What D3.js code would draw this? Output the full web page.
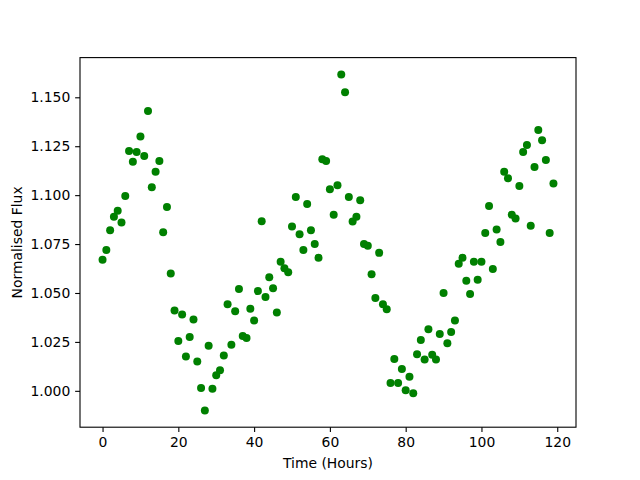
<!DOCTYPE html>
<html>
<head>
<meta charset="utf-8">
<script src="https://cdn.jsdelivr.net/npm/d3@7/dist/d3.min.js"></script>
<style>
  html, body { margin: 0; padding: 0; background: #fff; }
  svg { display: block; }
  text { font-family: "DejaVu Sans", sans-serif; }
</style>
</head>
<body>
<svg id="chart" width="640" height="480"></svg>
<script>
// Time in hours (one observation per hour)
const hours = d3.range(0, 120);
// Normalised flux
const flux = [
  1.067, 1.072, 1.082, 1.089, 1.092, 1.086, 1.0995, 1.1225, 1.117, 1.122,
  1.130, 1.120, 1.143, 1.104, 1.112, 1.1175, 1.081, 1.094, 1.060, 1.041,
  1.0255, 1.039, 1.0175, 1.0275, 1.0365, 1.015, 1.0015, 0.990, 1.023, 1.001,
  1.008, 1.0105, 1.018, 1.0443, 1.0235, 1.0407, 1.052, 1.028, 1.027, 1.042,
  1.036, 1.051, 1.0867, 1.048, 1.058, 1.0524, 1.040, 1.066, 1.0627, 1.0606,
  1.084, 1.099, 1.080, 1.072, 1.0955, 1.082, 1.075, 1.068, 1.1183, 1.1175,
  1.103, 1.090, 1.105, 1.1617, 1.1526, 1.099, 1.0865, 1.089, 1.0974, 1.075,
  1.0742, 1.0596, 1.0475, 1.0705, 1.0443, 1.0417, 1.004, 1.0163, 1.004, 1.0111,
  1.0003, 1.0072, 0.9988, 1.0187, 1.026, 1.016, 1.0315, 1.0185, 1.016, 1.029,
  1.050, 1.0243, 1.030, 1.036, 1.065, 1.068, 1.0562, 1.0495, 1.066, 1.0567,
  1.066, 1.0807, 1.0945, 1.0623, 1.0825, 1.0761, 1.112, 1.1086, 1.090, 1.088,
  1.1047, 1.122, 1.1256, 1.0843, 1.1144, 1.1333, 1.128, 1.118, 1.0807, 1.106
];
const xTicks = [0, 20, 40, 60, 80, 100, 120];
const yTicks = [1.000, 1.025, 1.050, 1.075, 1.100, 1.125, 1.150];
const xLabel = "Time (Hours)";
const yLabel = "Normalised Flux";

(function () {
  const W = 640, H = 480;
  const mLeft = 80, mRight = 576, mTop = 57.6, mBottom = 427.2;

  function padded(ext) {
    const r = ext[1] - ext[0];
    return [ext[0] - 0.05 * r, ext[1] + 0.05 * r];
  }

  const x = d3.scaleLinear().domain(padded(d3.extent(hours))).range([mLeft, mRight]);
  const y = d3.scaleLinear().domain(padded(d3.extent(flux))).range([mBottom, mTop]);

  const svg = d3.select("#chart");
  svg.append("rect").attr("width", W).attr("height", H).attr("fill", "#fff");

  const fs = "13.9px";
  const tickLen = 4.86;

  const xAxis = d3.axisBottom(x).tickValues(xTicks).tickFormat(d3.format("d"))
    .tickSizeInner(tickLen).tickSizeOuter(0).tickPadding(4.86);
  const yAxis = d3.axisLeft(y).tickValues(yTicks).tickFormat(d3.format(".3f"))
    .tickSizeInner(tickLen).tickSizeOuter(0).tickPadding(4.86);

  svg.append("g")
    .selectAll("circle")
    .data(hours.map((h, i) => [h, flux[i]]))
    .join("circle")
    .attr("cx", d => x(d[0]))
    .attr("cy", d => y(d[1]))
    .attr("r", 4)
    .attr("fill", "#008000");

  const gx = svg.append("g").attr("transform", `translate(0,${mBottom})`).call(xAxis);
  const gy = svg.append("g").attr("transform", `translate(${mLeft},0)`).call(yAxis);
  [gx, gy].forEach(g => {
    g.select(".domain").remove();
    g.selectAll(".tick line").attr("stroke", "#000").attr("stroke-width", 1.1);
    g.selectAll(".tick text").attr("fill", "#000").style("font-size", fs)
      .style("font-family", "'DejaVu Sans', sans-serif");
  });

  svg.append("rect")
    .attr("x", mLeft).attr("y", mTop)
    .attr("width", mRight - mLeft).attr("height", mBottom - mTop)
    .attr("fill", "none").attr("stroke", "#000").attr("stroke-width", 1.1);

  svg.append("text")
    .attr("x", (mLeft + mRight) / 2).attr("y", 468)
    .attr("text-anchor", "middle").style("font-size", fs)
    .text(xLabel);

  svg.append("text")
    .attr("transform", `translate(22,${(mTop + mBottom) / 2}) rotate(-90)`)
    .attr("text-anchor", "middle").style("font-size", fs)
    .text(yLabel);
})();
</script>
</body>
</html>
